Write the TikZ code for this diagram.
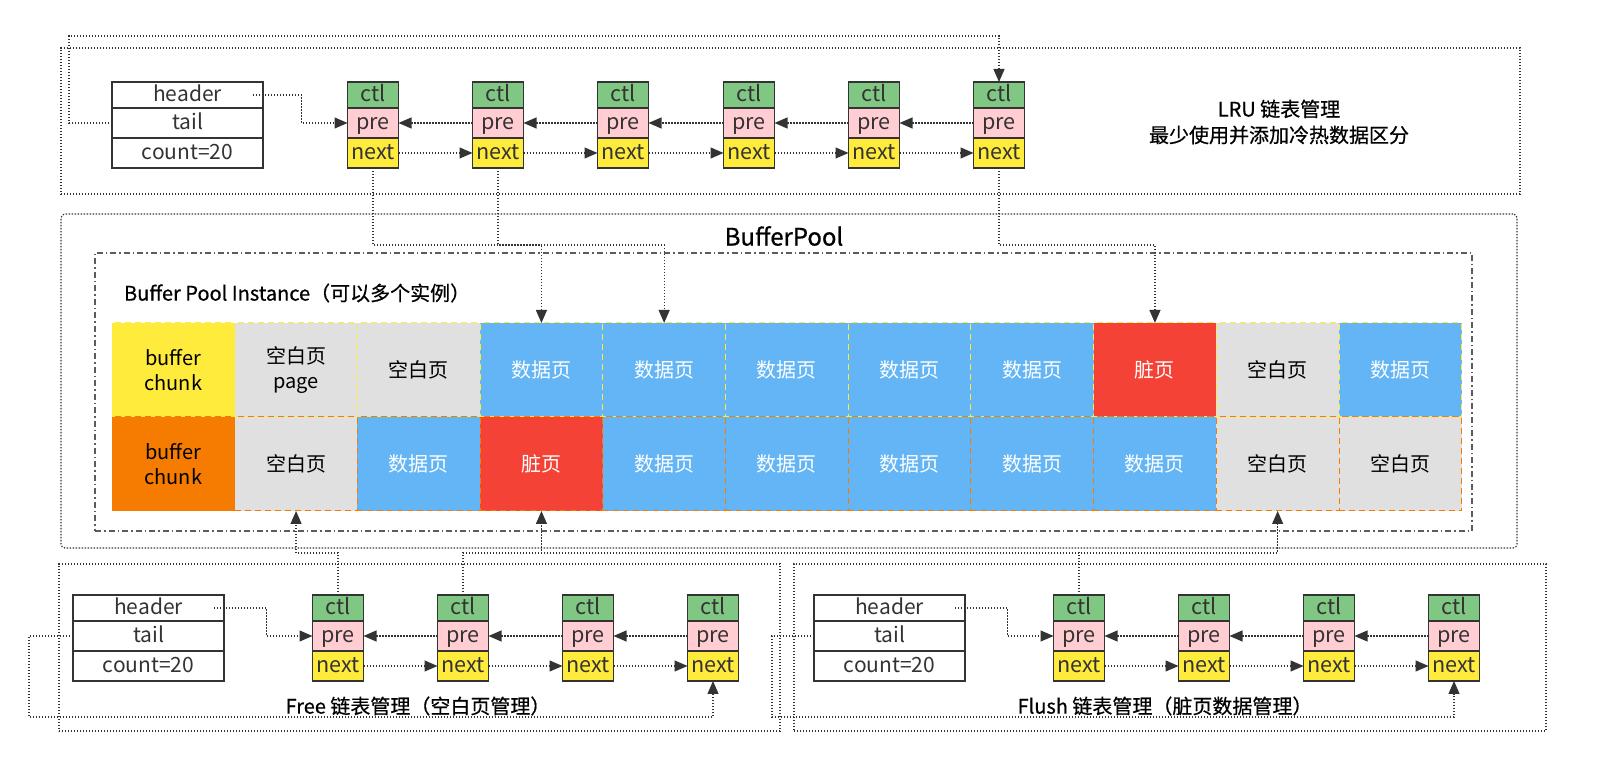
\documentclass[tikz,border=0pt]{standalone}
\usepackage{fontspec}
\setmainfont{Noto Sans CJK SC}
\newfontfamily\midfont[FakeBold=0.6]{Noto Sans CJK SC}
\usetikzlibrary{positioning,arrows.meta}
\definecolor{ctlgreen}{HTML}{81C784}
\definecolor{prepink}{HTML}{FFCDD2}
\definecolor{nextyellow}{HTML}{FFEB3B}
\definecolor{chunkorange}{HTML}{F57C00}
\definecolor{freegray}{HTML}{E0E0E0}
\definecolor{datablue}{HTML}{64B5F6}
\definecolor{dirtyred}{HTML}{F44336}
\definecolor{linegray}{HTML}{333333}

\begin{document}
\begin{tikzpicture}[x=0.5pt, y=-0.5pt, font=\fontsize{10}{12.5}\selectfont]
    \tikzstyle{cell} = [rectangle, draw=linegray, line width=0.75pt, outer sep=0pt, inner sep=0pt,
                        minimum width=25.5pt, text height=1.5ex, text depth=.3ex, text=linegray,
                        font=\fontsize{10.8}{12}\selectfont]
    \tikzstyle{ctlbox} = [cell, fill=ctlgreen, minimum height=13pt]
    \tikzstyle{prebox} = [cell, fill=prepink, minimum height=15pt]
    \tikzstyle{nextbox} = [cell, fill=nextyellow, minimum height=15pt]
    \tikzstyle{head} = [cell, fill=white, minimum width=75.5pt, minimum height=15pt,
                        font=\fontsize{10.5}{12}\selectfont]
    \tikzstyle{group} = [rectangle, draw=linegray, line width=0.6pt, dash pattern=on 0.7pt off 0.8pt,
                         outer sep=0pt, anchor=north west]
    \tikzstyle{link} = [draw=linegray, line width=0.6pt, dash pattern=on 0.7pt off 0.8pt,
                        -{Triangle[length=6.5pt, width=5.5pt]}]
    \tikzstyle{pg} = [rectangle, minimum width=61.35pt, minimum height=47pt, outer sep=0pt,
                      align=center, dash pattern=on 3pt off 2pt, line width=0.5pt]
    \tikzstyle{ychunk} = [fill=nextyellow, text=black]
    \tikzstyle{ochunk} = [fill=chunkorange, text=black]
    \tikzstyle{free} = [fill=freegray, text=black]
    \tikzstyle{data} = [fill=datablue, text=white]
    \tikzstyle{dirty} = [fill=dirtyred, text=white]

  \useasboundingbox (0,0) rectangle (1600,763);
  \node[group, minimum width=729.5pt, minimum height=73pt](lrub) at (61,48){};
  \node[group, rounded corners=2pt, minimum width=728pt, minimum height=167pt](bpb) at (61,214){};
  \node[group, draw=linegray!80, line width=0.75pt, dash pattern=on 3pt off 1.5pt on 0.75pt off 1.5pt,
        minimum width=688.5pt, minimum height=139pt](bpib) at (95,253){};
  \node[group, minimum width=360.5pt, minimum height=83.5pt](freeb) at (59,564){};
  \node[group, minimum width=376pt, minimum height=83.5pt](flushb) at (794,564){};

  \node[align=center, font=\midfont\fontsize{10}{13}\selectfont](lrut) at (1279,122){LRU 链表管理\\最少使用并添加冷热数据区分};
  \node[font=\midfont\fontsize{12}{14}\selectfont](bpt) at (784,236){BufferPool};
  \node[anchor=west, font=\midfont\fontsize{10}{12}\selectfont](bpit) at (117,293){Buffer Pool Instance（可以多个实例）};
  \node[font=\midfont\fontsize{10}{12}\selectfont](freet) at (418,706){Free 链表管理（空白页管理）};
  \node[font=\midfont\fontsize{10}{12}\selectfont](flusht) at (1165,706){Flush 链表管理（脏页数据管理）};

  \foreach \c/\s/\t in {1/ychunk/{buffer\\chunk}, 2/free/{空白页\\page}, 3/free/空白页, 4/data/数据页,
                        5/data/数据页, 6/data/数据页, 7/data/数据页, 8/data/数据页, 9/dirty/脏页,
                        10/free/空白页, 11/data/数据页}
    \node[pg, \s, draw=nextyellow](ra\c) at ({173.35+122.7*(\c-1)},370){\t};
  \foreach \c/\s/\t in {1/ochunk/{buffer\\chunk}, 2/free/空白页, 3/data/数据页, 4/dirty/脏页,
                        5/data/数据页, 6/data/数据页, 7/data/数据页, 8/data/数据页, 9/data/数据页,
                        10/free/空白页, 11/free/空白页}
    \node[pg, \s, draw=chunkorange](rb\c) at ({173.35+122.7*(\c-1)},464){\t};

  \node[head, minimum height=13pt, anchor=north west](lhead) at (112,82){header};
  \node[head, below=0pt of lhead](ltail){tail};
  \node[head, below=0pt of ltail](lcnt){count=20};
  \node[head, minimum height=13pt, anchor=north west](fhead) at (73,595){header};
  \node[head, below=0pt of fhead](ftail){tail};
  \node[head, below=0pt of ftail](fcnt){count=20};
  \node[head, minimum height=13pt, anchor=north west](hhead) at (814,595){header};
  \node[head, below=0pt of hhead](htail){tail};
  \node[head, below=0pt of htail](hcnt){count=20};

  \foreach \i/\x in {1/373, 2/498, 3/623, 4/749, 5/874, 6/999} {
    \node[ctlbox, anchor=north](lc\i) at (\x,82){ctl};
    \node[prebox, below=0pt of lc\i](lp\i){pre};
    \node[nextbox, below=0pt of lp\i](ln\i){next};
  }
  \foreach \i/\x in {1/338, 2/463, 3/588, 4/713} {
    \node[ctlbox, anchor=north](fc\i) at (\x,595){ctl};
    \node[prebox, below=0pt of fc\i](fp\i){pre};
    \node[nextbox, below=0pt of fp\i](fn\i){next};
  }
  \foreach \i/\x in {1/1079, 2/1204, 3/1329, 4/1454} {
    \node[ctlbox, anchor=north](hc\i) at (\x,595){ctl};
    \node[prebox, below=0pt of hc\i](hp\i){pre};
    \node[nextbox, below=0pt of hp\i](hn\i){next};
  }

  \coordinate (ltop) at (69,36);
  \coordinate (lbus) at (0,245);
  \coordinate (fbus) at (0,553);
  \coordinate (fbot) at (29,717);
  \coordinate (hbot) at (772,717);

  \foreach \i/\j in {1/2, 2/3, 3/4, 4/5, 5/6} {
    \draw[link] (lp\j) -- (lp\i);
    \draw[link] (ln\i) -- (ln\j);
  }
  \foreach \i/\j in {1/2, 2/3, 3/4} {
    \draw[link] (fp\j) -- (fp\i);
    \draw[link] (fn\i) -- (fn\j);
    \draw[link] (hp\j) -- (hp\i);
    \draw[link] (hn\i) -- (hn\j);
  }
  \draw[link] ([xshift=-5pt]lhead.east) -| ([xshift=-23pt]lp1.west) -- (lp1.west);
  \draw[link] ([xshift=-5pt]fhead.east) -| ([xshift=-23pt]fp1.west) -- (fp1.west);
  \draw[link] ([xshift=-5pt]hhead.east) -| ([xshift=-23pt]hp1.west) -- (hp1.west);
  \draw[link] (ltail.west) -| (ltop) -| (lc6.north);
  \draw[link] (ftail.west) -| (fbot) -| (fn4.south);
  \draw[link] (htail.west) -| (hbot) -| (hn4.south);
  \draw[link] (ln1.south) -- (ln1.south |- lbus) -| (ra4.north);
  \draw[link] (ln2.south) -- (ln2.south |- lbus) -| (ra5.north);
  \draw[link] (ln6.south) -- (ln6.south |- lbus) -| (ra9.north);
  \draw[link] (fc1.north) -- (fc1.north |- fbus) -| (rb2.south);
  \draw[link] (fc2.north) -- (fc2.north |- fbus) -| (rb10.south);
  \draw[link] (hc1.north) -- (hc1.north |- fbus) -| (rb4.south);
\end{tikzpicture}
\end{document}
